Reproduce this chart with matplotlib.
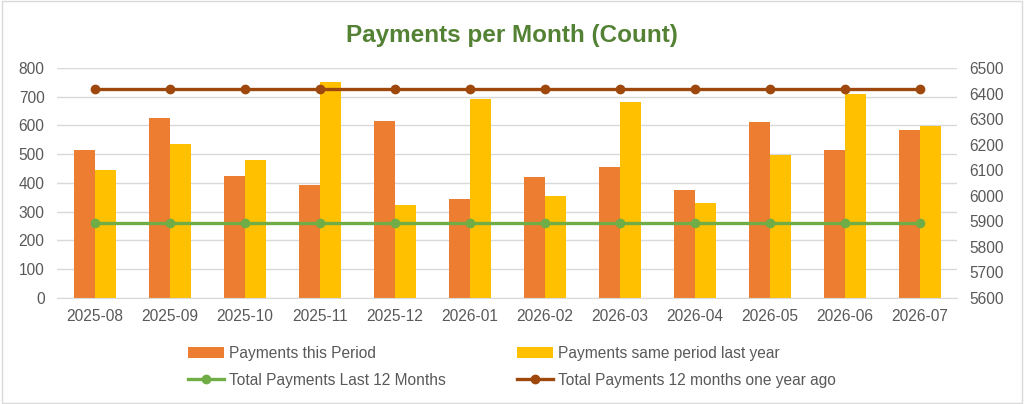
import matplotlib.pyplot as plt
import numpy as np

plt.rcParams['font.family'] = ['Liberation Sans', 'DejaVu Sans']

months = ["2025-08", "2025-09", "2025-10", "2025-11", "2025-12", "2026-01",
          "2026-02", "2026-03", "2026-04", "2026-05", "2026-06", "2026-07"]
this_period = [516, 625, 425, 394, 615, 345, 420, 457, 374, 612, 515, 585]
last_year = [445, 537, 481, 752, 324, 692, 354, 683, 331, 497, 711, 597]
total_12m = [5895] * 12
total_12m_prev = [6418] * 12

c_orange = "#ED7D31"
c_yellow = "#FFC000"
c_green = "#70AD47"
c_brown = "#9E480E"
c_text = "#595959"

fig = plt.figure(figsize=(10.24, 4.04), dpi=100)
fig.patches.append(plt.Rectangle((0.002, 0.003), 0.996, 0.994, transform=fig.transFigure,
                                 fill=False, edgecolor="#D9D9D9", linewidth=1))
ax = fig.add_axes([0.0557, 0.2624, 0.879, 0.5693])
ax2 = ax.twinx()

x = np.arange(len(months))
w = 0.28
b1 = ax.bar(x - w / 2, this_period, w, color=c_orange, label="Payments this Period", zorder=2)
b2 = ax.bar(x + w / 2, last_year, w, color=c_yellow, label="Payments same period last year", zorder=2)

l1, = ax2.plot(x, total_12m, color=c_green, lw=2.4, marker="o", ms=6,
               label="Total Payments Last 12 Months")
l2, = ax2.plot(x, total_12m_prev, color=c_brown, lw=2.4, marker="o", ms=6,
               label="Total Payments 12 months one year ago")

ax.set_xlim(-0.5, len(months) - 0.5)
ax.set_ylim(0, 800)
ax.set_yticks(range(0, 801, 100))
ax2.set_ylim(5600, 6500)
ax2.set_yticks(range(5600, 6501, 100))
ax.set_xticks(x)
ax.set_xticklabels(months)

ax.grid(axis="y", color="#D9D9D9", lw=1, zorder=0)
ax.set_axisbelow(True)
for a in (ax, ax2):
    for s in a.spines.values():
        s.set_visible(False)
    a.tick_params(length=0, labelsize=11.2, labelcolor=c_text)
ax.spines["bottom"].set_visible(True)
ax.spines["bottom"].set_color("#D9D9D9")
ax.tick_params(axis="x", pad=8)
ax.tick_params(axis="y", pad=9)
ax2.tick_params(axis="y", pad=9)

fig.suptitle("Payments per Month (Count)", y=0.94, fontsize=17.5, fontweight="bold", color="#548235")

fig.legend([b1, l1, b2, l2],
           [b1.get_label(), l1.get_label(), b2.get_label(), l2.get_label()],
           ncol=2, loc="upper center", bbox_to_anchor=(0.5, 0.178), frameon=False,
           fontsize=11.2, labelcolor=c_text, columnspacing=4.6, handlelength=2.3,
           handletextpad=0.3, labelspacing=0.75)

fig.savefig("out.png", dpi=100)
